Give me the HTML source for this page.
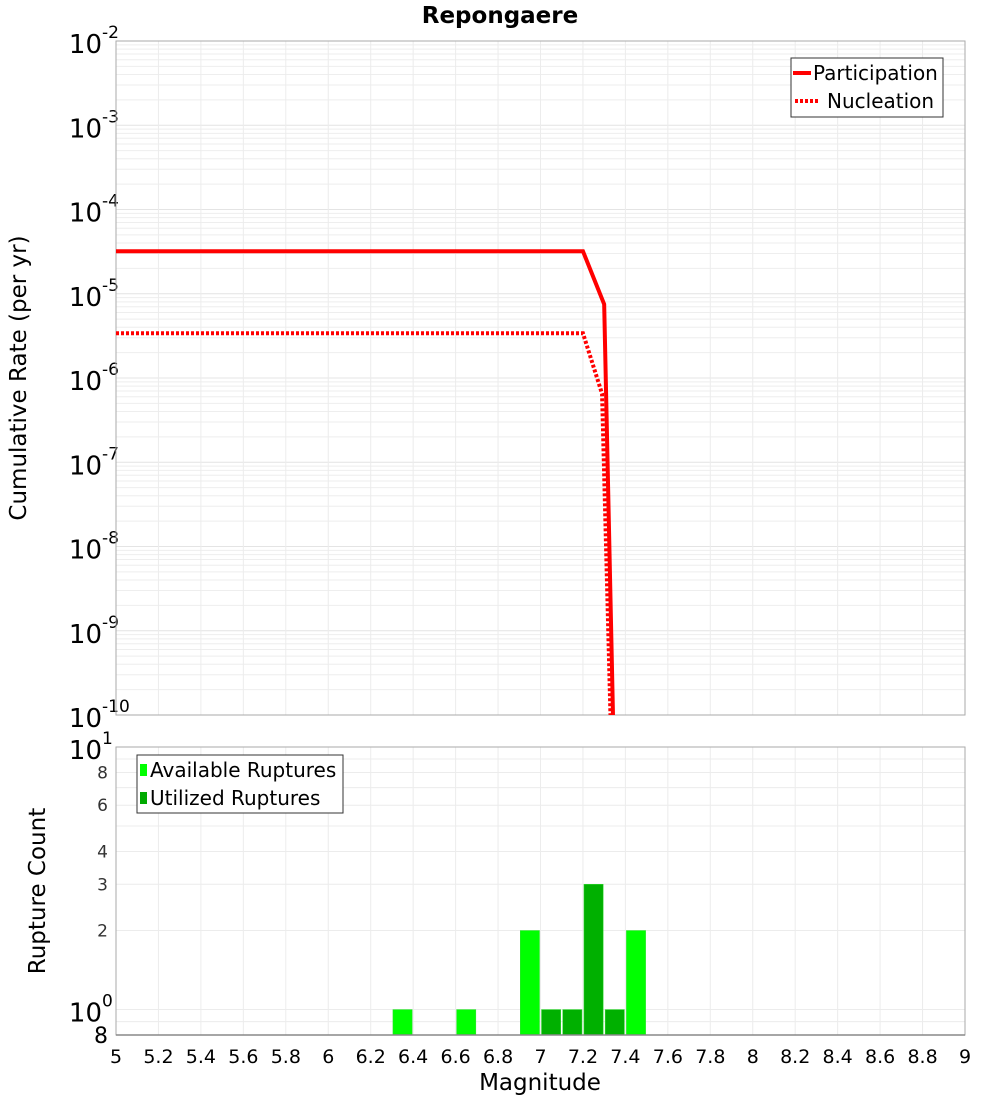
<!DOCTYPE html>
<html><head><meta charset="utf-8"><style>
body{margin:0;background:#fff;font-family:"DejaVu Sans","Liberation Sans",sans-serif}
svg{display:block}
</style></head><body>
<svg id="c" width="1000" height="1100" xmlns="http://www.w3.org/2000/svg" font-family="DejaVu Sans, Liberation Sans, sans-serif">
<text x="500" y="23" text-anchor="middle" font-size="23" font-weight="bold">Repongaere</text>
<g id="topg"></g>
<g id="botg"></g>
<text transform="translate(26,378) rotate(-90)" text-anchor="middle" font-size="23">Cumulative Rate (per yr)</text>
<text transform="translate(45,891) rotate(-90)" text-anchor="middle" font-size="23">Rupture Count</text>
<text x="540" y="1090" text-anchor="middle" font-size="23">Magnitude</text>
<g>
<rect x="791" y="58" width="152" height="59" fill="#fff" stroke="#333" stroke-width="1"/>
<line x1="793" y1="73" x2="811" y2="73" stroke="#f00" stroke-width="4"/>
<text x="813" y="80" font-size="20">Participation</text>
<line x1="795" y1="101" x2="820" y2="101" stroke="#f00" stroke-width="4" stroke-dasharray="3,2"/>
<text x="827" y="108" font-size="20">Nucleation</text>
</g>
<g>
<rect x="137" y="755" width="206" height="58" fill="#fff" stroke="#333" stroke-width="1"/>
<rect x="140" y="764" width="7" height="12" fill="#00ff00"/>
<text x="150" y="777" font-size="20">Available Ruptures</text>
<rect x="140" y="792" width="7" height="12" fill="#00aa00"/>
<text x="150" y="805" font-size="20">Utilized Ruptures</text>
</g>
</svg>
<script>
const partMags=[5.0,7.2,7.3,7.35];
const partRates=[3.2e-5,3.2e-5,7.5e-6,1e-11];
const nuclMags=[5.0,7.2,7.29,7.34];
const nuclRates=[3.4e-6,3.4e-6,6.5e-7,1e-11];
const availBins=[6.35,6.65,6.95,7.45];
const availCounts=[1,1,2,2];
const usedBins=[7.05,7.15,7.25,7.35];
const usedCounts=[1,1,3,1];
const xTicks=[5,5.2,5.4,5.6,5.8,6,6.2,6.4,6.6,6.8,7,7.2,7.4,7.6,7.8,8,8.2,8.4,8.6,8.8,9];
const yExps=[-2,-3,-4,-5,-6,-7,-8,-9,-10];
const countTicks=[2,3,4,6,8];

const NS="http://www.w3.org/2000/svg";
function mk(p,t,a){const e=document.createElementNS(NS,t);for(const k in a)e.setAttribute(k,a[k]);p.appendChild(e);return e;}
const X0=116,X1=965;
const xs=m=>X0+(m-5)/(9-5)*(X1-X0);
const T0=41,T1=715;
const ys=v=>T0+(-2-Math.log10(v))/8*(T1-T0);
const B0=747,B1=1035;
const yb=v=>B0+(1-Math.log10(v))/(1-Math.log10(0.8))*(B1-B0);
const topG=document.getElementById('topg'),botG=document.getElementById('botg');

for(let e=-10;e<-2;e++)for(let k=1;k<10;k++){const y=ys(k*Math.pow(10,e));
 const l=mk(topG,'line',{x1:X0,x2:X1,y1:y,y2:y,stroke:k==1?'#e4e4e4':'#eeeeee','stroke-width':1});
 
 }
xTicks.forEach(m=>{const x=xs(m);
 const l=mk(topG,'line',{x1:x,x2:x,y1:T0,y2:T1,stroke:'#ececec'});
 
 
 const l2=mk(botG,'line',{x1:x,x2:x,y1:B0,y2:B1,stroke:'#ececec'});
 
 
 const t=mk(botG,'text',{x:x,y:1063,'text-anchor':'middle','font-size':19});t.textContent=String(m);
 
 });
yExps.forEach(e=>{const y=ys(Math.pow(10,e));
 const t=mk(topG,'text',{x:102,y:y+12,'text-anchor':'end','font-size':26});t.textContent='10';
 
 
 const s=mk(topG,'text',{x:102,y:y-3,'font-size':17});s.textContent=String(e);
 
 });
mk(topG,'rect',{x:X0,y:T0,width:X1-X0,height:T1-T0,fill:'none',stroke:'#aaa'});
const defs=mk(topG,'defs',{});const cp=mk(defs,'clipPath',{id:'cp'});mk(cp,'rect',{x:X0,y:T0,width:X1-X0,height:T1-T0});
const pp=mk(topG,'polyline',{points:partMags.map((m,i)=>xs(m)+','+ys(partRates[i])).join(' '),fill:'none',stroke:'#f00','stroke-width':4,'clip-path':'url(#cp)'});


const np=mk(topG,'polyline',{points:nuclMags.map((m,i)=>xs(m)+','+ys(nuclRates[i])).join(' '),fill:'none',stroke:'#f00','stroke-width':4,'stroke-dasharray':'3,2','clip-path':'url(#cp)'});



[1,2,3,4,5,6,7,8,9,10,0.9].forEach(v=>{const y=yb(v);
 const l=mk(botG,'line',{x1:X0,x2:X1,y1:y,y2:y,stroke:'#ececec'});
 
 });
countTicks.forEach(v=>{const t=mk(botG,'text',{x:108,y:yb(v)+6,'text-anchor':'end','font-size':17,fill:'#333'});t.textContent=String(v);
 
 });
[[10,'1'],[1,'0']].forEach(([v,e])=>{const y=yb(v);
 const t=mk(botG,'text',{x:102,y:y+12,'text-anchor':'end','font-size':26});t.textContent='10';
 
 
 const s=mk(botG,'text',{x:102,y:y-3,'font-size':17});s.textContent=e;
 
 });
const t8=mk(botG,'text',{x:108,y:1043,'text-anchor':'end','font-size':22});t8.textContent='8';


function bars(bins,counts,col,name){bins.forEach((m,i)=>{const x=xs(m-0.05)+1,w=xs(m+0.05)-xs(m-0.05)-2,y=yb(counts[i]);
 const r=mk(botG,'rect',{x:x,y:y,width:w,height:B1-y,fill:col,stroke:'#33dd33','stroke-width':0.5});
 
 });}
bars(availBins,availCounts,'#00ff00','available-bar');
bars(usedBins,usedCounts,'#00b000','utilized-bar');
mk(botG,'rect',{x:X0,y:B0,width:X1-X0,height:B1-B0,fill:'none',stroke:'#aaa'});
mk(botG,'line',{x1:X0,x2:X1,y1:B1,y2:B1,stroke:'#888','stroke-width':1.5});
</script>
</body></html>
